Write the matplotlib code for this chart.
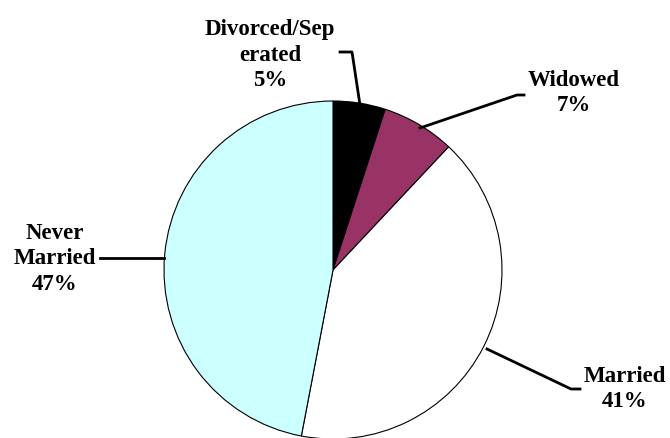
import matplotlib
matplotlib.use("Agg")
import matplotlib.pyplot as plt

# ── Data ──────────────────────────────────────────────────────────────────────
labels = ["Divorced/Sep\nerated", "Widowed", "Married", "Never\nMarried"]
shares = [5, 7, 41, 47]
colors = ["#000000", "#993366", "#FFFFFF", "#CCFFFF"]

W, H = 670, 439
FONT = "Liberation Serif"


def py(y):
    # image row -> data y (axes run bottom-up)
    return H - y


fig = plt.figure(figsize=(W / 100, H / 100), dpi=100)
ax = fig.add_axes([0, 0, 1, 1])

ax.pie(
    shares,
    colors=colors,
    startangle=90,
    counterclock=False,
    center=(333, py(271)),
    radius=169,
    wedgeprops=dict(edgecolor="black", linewidth=0.8),
)
ax.set_xlim(0, W)
ax.set_ylim(0, H)
ax.set_aspect("equal")
ax.axis("off")

# ── Leader lines ──────────────────────────────────────────────────────────────
line_kw = dict(color="black", linewidth=2)
ax.plot([360, 352, 340], [py(106), py(53), py(53)], **line_kw)
ax.plot([420, 517, 524], [py(129), py(96), py(96)], **line_kw)
ax.plot([164, 100], [py(259), py(259)], **line_kw)
ax.plot([487, 571, 580], [py(350), py(390), py(390)], **line_kw)

# ── Labels ────────────────────────────────────────────────────────────────────
text_kw = dict(fontsize=16.5, fontweight="bold", family=FONT, ha="center",
               va="center", linespacing=1.3)
ax.text(270, py(55), f"{labels[0]}\n{shares[0]}%", **text_kw)
ax.text(574, py(93), f"{labels[1]}\n{shares[1]}%", **text_kw)
ax.text(625, py(389), f"{labels[2]}\n{shares[2]}%", **text_kw)
ax.text(55, py(259), f"{labels[3]}\n{shares[3]}%", **text_kw)

fig.savefig("out.png", dpi=100)
plt.close(fig)
